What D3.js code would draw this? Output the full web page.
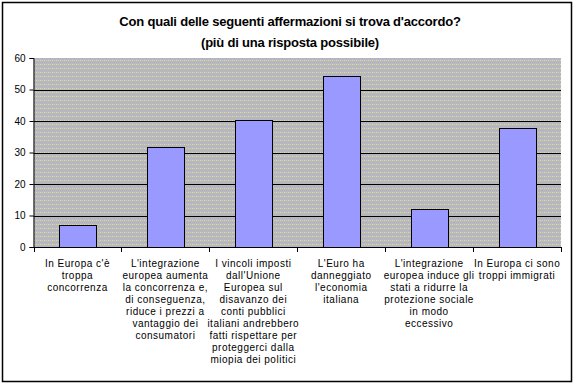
<!DOCTYPE html>
<html>
<head>
<meta charset="utf-8">
<script src="https://cdn.jsdelivr.net/npm/d3@7"></script>
<style>
  body { margin: 0; background: #fff; }
  text { font-family: "Liberation Sans", Arial, sans-serif; }
</style>
</head>
<body>
<svg id="chart"></svg>
<script>
const titleLines = ["Con quali delle seguenti affermazioni si trova d'accordo?", "(più di una risposta possibile)"];
const categories = [
    "In Europa c'è|troppa|concorrenza",
    "L'integrazione|europea aumenta|la concorrenza e,|di conseguenza,|riduce i prezzi a|vantaggio dei|consumatori",
    "I vincoli  imposti|dall'Unione|Europea sul|disavanzo dei|conti pubblici|italiani andrebbero|fatti rispettare per|proteggerci dalla|miopia dei politici",
    "L'Euro ha|danneggiato|l'economia|italiana",
    "L'integrazione|europea induce gli|stati a ridurre la|protezione sociale|in modo|eccessivo",
    "In Europa ci sono|troppi immigrati"
];
const values = [7, 31.7, 40.2, 54.3, 12, 37.7];
const yTicks = [0, 10, 20, 30, 40, 50, 60];

const width = 576;
const height = 385;
const svg = d3.select("#chart").attr("width", width).attr("height", height);

// cornice esterna
svg.append("rect")
    .attr("x", 2.5).attr("y", 2.5)
    .attr("width", 569).attr("height", 379)
    .attr("fill", "white").attr("stroke", "black").attr("stroke-width", 1.5);

// sfondo a puntini come in Excel
const pat = svg.append("defs").append("pattern")
    .attr("id", "bg").attr("width", 4).attr("height", 4)
    .attr("patternUnits", "userSpaceOnUse");
pat.append("rect").attr("width", 4).attr("height", 4).attr("fill", "#b9b9b9");
pat.append("rect").attr("x", 0).attr("y", 0).attr("width", 1).attr("height", 1).attr("fill", "#dcdca0");
pat.append("rect").attr("x", 2).attr("y", 2).attr("width", 1).attr("height", 1).attr("fill", "#ababe4");
pat.append("rect").attr("x", 2).attr("y", 0).attr("width", 1).attr("height", 1).attr("fill", "#d0d0a8");
pat.append("rect").attr("x", 0).attr("y", 2).attr("width", 1).attr("height", 1).attr("fill", "#b0b0d4");

const xScale = d3.scaleBand().domain(categories).range([33.5, 561]).paddingInner(0.58).paddingOuter(0.29);
const yScale = d3.scaleLinear().domain([0, 60]).range([247, 58]);

svg.append("rect")
    .attr("x", 33.5).attr("y", yScale(60))
    .attr("width", 561 - 33.5).attr("height", yScale(0) - yScale(60))
    .attr("fill", "url(#bg)");

// linee della griglia
svg.append("g")
    .selectAll("line")
    .data(yTicks.slice(1, -1))
    .enter()
    .append("line")
    .attr("x1", 33.5).attr("x2", 561)
    .attr("y1", d => Math.round(yScale(d)) + 0.5)
    .attr("y2", d => Math.round(yScale(d)) + 0.5)
    .attr("stroke", "black");

// barre
svg.selectAll("rect.bar")
    .data(values)
    .enter()
    .append("rect")
    .attr("class", "bar")
    .attr("x", (d, i) => Math.round(xScale(categories[i])) + 0.5)
    .attr("y", d => Math.round(yScale(d)) + 0.5)
    .attr("width", Math.round(xScale.bandwidth()))
    .attr("height", d => Math.round(yScale(0)) - Math.round(yScale(d)))
    .attr("fill", "#9999ff")
    .attr("stroke", "black");

// asse y
const yAxis = svg.append("g")
    .attr("transform", "translate(33.5,0)")
    .call(d3.axisLeft(yScale).tickValues(yTicks).tickSize(4).tickPadding(4));
yAxis.select(".domain").attr("stroke", "black");
yAxis.selectAll("text").style("font-size", "10px").attr("fill", "black");

// asse x con tacche tra le categorie
const edges = d3.range(categories.length + 1).map(i => 33.5 + i * (561 - 33.5) / categories.length);
svg.append("line")
    .attr("x1", 33.5).attr("x2", 561)
    .attr("y1", yScale(0) + 0.5).attr("y2", yScale(0) + 0.5)
    .attr("stroke", "black");
svg.append("g").selectAll("line")
    .data(edges)
    .enter()
    .append("line")
    .attr("x1", d => Math.round(d) + 0.5).attr("x2", d => Math.round(d) + 0.5)
    .attr("y1", yScale(0)).attr("y2", yScale(0) + 5)
    .attr("stroke", "black");

// etichette delle categorie
svg.append("g").selectAll("text")
    .data(categories)
    .enter()
    .append("text")
    .attr("text-anchor", "middle")
    .style("font-size", "10px")
    .style("letter-spacing", "0.5px")
    .each(function (d) {
        const cx = xScale(d) + xScale.bandwidth() / 2;
        d3.select(this).selectAll("tspan")
            .data(d.split("|"))
            .enter()
            .append("tspan")
            .attr("x", cx)
            .attr("y", (t, i) => 267 + i * 12)
            .text(t => t);
    });

// titolo
svg.append("g").selectAll("text")
    .data(titleLines)
    .enter()
    .append("text")
    .attr("x", 290)
    .attr("y", (d, i) => 26 + i * 21)
    .attr("text-anchor", "middle")
    .style("font-size", "13px")
    .style("font-weight", "bold")
    .style("letter-spacing", "-0.2px")
    .text(d => d);
</script>
</body>
</html>
